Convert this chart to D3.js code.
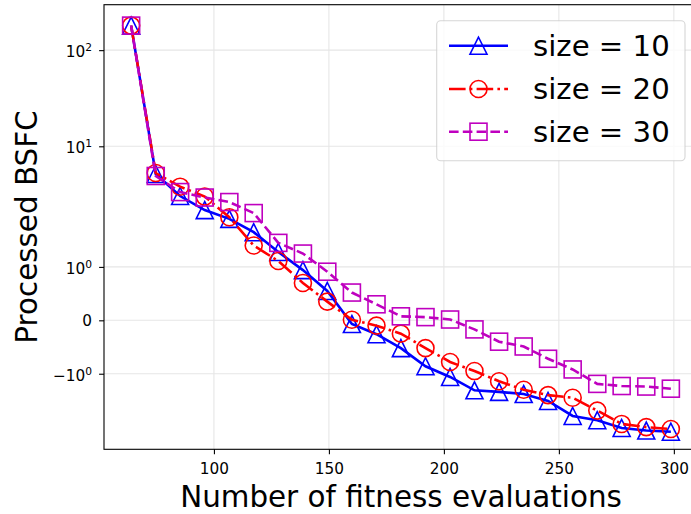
<!DOCTYPE html>
<html>
<head>
<meta charset="utf-8">
<script src="https://cdn.jsdelivr.net/npm/d3@7/dist/d3.min.js"></script>
<style>
  html, body { margin: 0; padding: 0; background: #fff; }
  svg { display: block; font-family: "DejaVu Sans", sans-serif; }
</style>
</head>
<body>
<svg id="chart" width="691" height="514"></svg>
<script>
// Fitness evaluations (x) and processed BSFC for each population size
const evaluations = [64, 74.7, 85.3, 96, 106.7, 117.3, 128, 138.7, 149.3, 160, 170.7, 181.3,
                     192, 202.7, 213.3, 224, 234.7, 245.3, 256, 266.7, 277.3, 288, 298.7];
const size10 = [180, 5.15, 3.04, 2.17, 1.90, 1.65, 1.28, 0.94, 0.55, -0.07, -0.26, -0.52,
                -0.86, -1.06, -1.31, -1.34, -1.38, -1.51, -1.79, -1.87, -2.04, -2.17, -2.23];
const size20 = [180, 5.27, 3.80, 3.00, 1.93, 1.40, 1.11, 0.70, 0.35, 0.01, -0.10, -0.25,
                -0.52, -0.78, -0.95, -1.14, -1.30, -1.40, -1.45, -1.69, -1.94, -2.00, -2.09];
const size30 = [180, 4.91, 3.34, 2.93, 2.63, 2.02, 1.45, 1.25, 0.91, 0.52, 0.30, 0.075,
                0.06, 0.015, -0.17, -0.40, -0.49, -0.72, -0.92, -1.19, -1.23, -1.24, -1.28];
const seriesLabels = ["size = 10", "size = 20", "size = 30"];

const xTicks = [100, 150, 200, 250, 300];
const yTicks = [100, 10, 1, 0, -1];
const yTickBase = ["10", "10", "10", "0", "\u221210"];
const yTickExp = ["2", "1", "0", "", "0"];

const xLimits = [52.2, 310.5];
const yLimits = [-3.4, 297];

// Symmetric log transform (linear within ±linthresh, base-10 log outside)
const linthresh = 2, linscaleAdj = 1 / (1 - 1 / 10);
function symlog(v) {
  const a = Math.abs(v);
  return a <= linthresh ? v * linscaleAdj
    : Math.sign(v) * linthresh * (linscaleAdj + Math.log10(a / linthresh));
}

const plot = { left: 104, right: 698, top: 4.7, bottom: 449.3 };
const svg = d3.select("#chart");

const x = d3.scaleLinear().domain(xLimits).range([plot.left, plot.right]);
const yT = d3.scaleLinear().domain(yLimits.map(symlog)).range([plot.bottom, plot.top]);
const y = v => yT(symlog(v));

svg.append("rect").attr("width", 691).attr("height", 514).attr("fill", "#fff");

svg.append("defs").append("clipPath").attr("id", "plotClip")
  .append("rect").attr("x", plot.left).attr("y", plot.top)
  .attr("width", plot.right - plot.left).attr("height", plot.bottom - plot.top);

// Grid
const grid = svg.append("g").attr("stroke", "#e6e6e6").attr("stroke-width", 1.1);
grid.selectAll("line.gx").data(xTicks).join("line")
  .attr("x1", d => x(d)).attr("x2", d => x(d))
  .attr("y1", plot.top).attr("y2", plot.bottom);
grid.selectAll("line.gy").data(yTicks).join("line")
  .attr("x1", plot.left).attr("x2", plot.right)
  .attr("y1", d => y(d)).attr("y2", d => y(d));

// Series
const lw = 2.6, mew = 1.6, ms = 17;
const series = [
  { values: size10, color: "#0000ff", dash: null, marker: "triangle" },
  { values: size20, color: "#ff0000", dash: "16.6,4.2,2.6,4.2", marker: "circle" },
  { values: size30, color: "#bf00bf", dash: "9.6,4.2", marker: "square" }
];

function drawMarker(g, type, cx, cy, color) {
  if (type === "triangle") {
    g.append("path")
      .attr("d", `M${cx},${cy - ms / 2}L${cx - ms / 2},${cy + ms / 2}L${cx + ms / 2},${cy + ms / 2}Z`)
      .attr("fill", "none").attr("stroke", color).attr("stroke-width", mew);
  } else if (type === "circle") {
    g.append("circle").attr("cx", cx).attr("cy", cy).attr("r", ms / 2)
      .attr("fill", "none").attr("stroke", color).attr("stroke-width", mew);
  } else {
    g.append("rect").attr("x", cx - ms / 2).attr("y", cy - ms / 2)
      .attr("width", ms).attr("height", ms)
      .attr("fill", "none").attr("stroke", color).attr("stroke-width", mew);
  }
}

const line = d3.line().x(d => x(d[0])).y(d => y(d[1]));
const plotG = svg.append("g").attr("clip-path", "url(#plotClip)");
series.forEach(s => {
  const pts = evaluations.map((e, i) => [e, s.values[i]]);
  const g = plotG.append("g");
  g.append("path").datum(pts).attr("d", line)
    .attr("fill", "none").attr("stroke", s.color).attr("stroke-width", lw)
    .attr("stroke-dasharray", s.dash);
  pts.forEach(p => drawMarker(g, s.marker, x(p[0]), y(p[1]), s.color));
});

// Axes
const xAxis = svg.append("g").attr("transform", `translate(0,${plot.bottom})`)
  .call(d3.axisBottom(x).tickValues(xTicks).tickSize(4.9).tickPadding(4).tickFormat(d3.format("d")));
xAxis.select(".domain").remove();
xAxis.selectAll("line").attr("stroke", "#000").attr("stroke-width", 1.1);
xAxis.selectAll("text").attr("font-size", 15.3).attr("fill", "#000")
  .attr("font-family", "DejaVu Sans").attr("dy", null).attr("y", 24.7);

const yAxis = svg.append("g").attr("transform", `translate(${plot.left},0)`)
  .call(d3.axisLeft(yT).tickValues(yTicks.map(symlog)).tickSize(4.9).tickFormat(""));
yAxis.select(".domain").remove();
yAxis.selectAll("line").attr("stroke", "#000").attr("stroke-width", 1.1);

yTicks.forEach((t, i) => {
  const txt = svg.append("text")
    .attr("x", 92).attr("y", y(t) + (yTickExp[i] ? 7.2 : 5.8))
    .attr("text-anchor", "end").attr("font-size", 15.3).attr("fill", "#000");
  txt.append("tspan").text(yTickBase[i]);
  if (yTickExp[i]) txt.append("tspan").attr("font-size", 10.7).attr("dy", -6.3).text(yTickExp[i]);
});

// Frame
svg.append("rect").attr("x", plot.left).attr("y", plot.top)
  .attr("width", plot.right - plot.left).attr("height", plot.bottom - plot.top)
  .attr("fill", "none").attr("stroke", "#000").attr("stroke-width", 1.1);

// Axis titles
svg.append("text").attr("x", (plot.left + plot.right) / 2).attr("y", 507)
  .attr("text-anchor", "middle").attr("font-size", 29.4).attr("fill", "#000")
  .text("Number of fitness evaluations");
svg.append("text")
  .attr("transform", `translate(37,${(plot.top + plot.bottom) / 2}) rotate(-90)`)
  .attr("text-anchor", "middle").attr("font-size", 29.4).attr("fill", "#000")
  .text("Processed BSFC");

// Legend
const leg = svg.append("g");
leg.append("rect").attr("x", 436.7).attr("y", 20.7).attr("width", 248.3).attr("height", 140)
  .attr("rx", 4).attr("fill", "#fff").attr("fill-opacity", 0.8)
  .attr("stroke", "#cccccc").attr("stroke-opacity", 0.8).attr("stroke-width", 1.1);
const legY = [45.7, 89, 131.7];
series.forEach((s, i) => {
  const cy = legY[i];
  leg.append("line").attr("x1", 449).attr("x2", 508).attr("y1", cy).attr("y2", cy)
    .attr("stroke", s.color).attr("stroke-width", lw).attr("stroke-dasharray", s.dash);
  drawMarker(leg, s.marker, 478.5, cy, s.color);
  leg.append("text").attr("x", 533).attr("y", cy + 9.8)
    .attr("font-size", 29.2).attr("fill", "#000").text(seriesLabels[i]);
});
</script>
</body>
</html>
